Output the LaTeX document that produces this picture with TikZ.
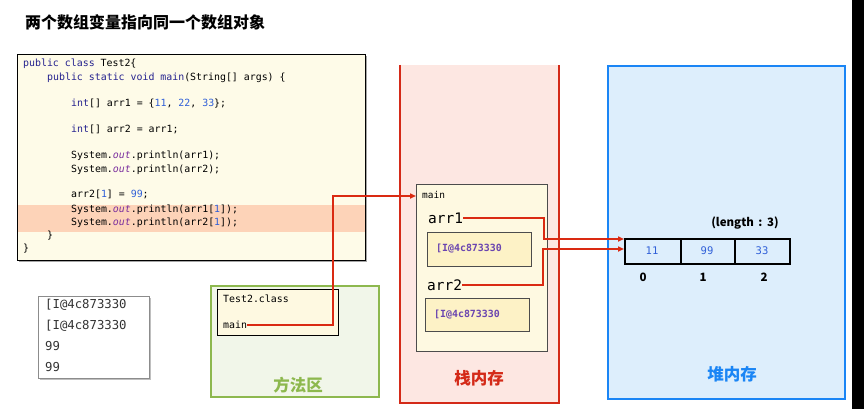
\documentclass[tikz,border=0pt]{standalone}
\usepackage{fontspec}
\usetikzlibrary{arrows.meta,calc}
\newfontfamily\cjk{Noto Sans CJK SC}
\setmonofont{DejaVu Sans Mono}
\definecolor{codebg}{HTML}{FEFBE8}
\definecolor{hilite}{HTML}{FDD3B8}
\definecolor{kwblue}{HTML}{26238F}
\definecolor{numblue}{HTML}{2F5FD8}
\definecolor{outpurple}{HTML}{7A2E9E}
\definecolor{stackfill}{HTML}{FDE7E2}
\definecolor{stackred}{HTML}{D42A18}
\definecolor{arrowred}{HTML}{DA2A12}
\definecolor{heapfill}{HTML}{DDEEFC}
\definecolor{heapblue}{HTML}{1A85F5}
\definecolor{methfill}{HTML}{F1F6E9}
\definecolor{methgreen}{HTML}{8DB84E}
\definecolor{frameyel}{HTML}{FEF9E1}
\definecolor{refyel}{HTML}{FDF2C6}
\definecolor{refpurple}{HTML}{6A45B0}
\definecolor{outgray}{HTML}{333333}
\newcommand{\kw}[1]{\textcolor{kwblue}{#1}}
\newcommand{\nm}[1]{\textcolor{numblue}{#1}}
\newcommand{\ov}{\textcolor{outpurple}{\textit{out}}}
\begin{document}
\begin{tikzpicture}[x=1pt,y=-1pt,
  box/.style={draw, anchor=north west, inner sep=0pt},
  codeline/.style={anchor=west, inner sep=0pt, font=\ttfamily\fontsize{9.9}{10}\selectfont, text height=7.5pt, text depth=2.5pt},
  plain/.style={anchor=west, inner sep=0pt},
  redline/.style={draw=arrowred, line width=2pt},
  redarrow/.style={redline, -{Triangle[length=6pt,width=5pt]}},
  area/.style={font=\cjk\bfseries\fontsize{16.5}{17}\selectfont, inner sep=0pt},
  cell/.style={box, draw=black, line width=1.6pt, minimum height=25pt},
  cellval/.style={inner sep=0pt, font=\ttfamily\fontsize{10.5}{11}\selectfont, text=numblue},
  idx/.style={inner sep=0pt, font=\cjk\bfseries\fontsize{11.5}{12}\selectfont}
]
\useasboundingbox (0,0) rectangle (864,409);
\fill[white] (0,0) rectangle (864,409);
\fill[black] (852,0) rectangle (864,409);

% title
\node[plain, font=\cjk\bfseries\fontsize{16}{17}\selectfont] (title) at (25,22) {两个数组变量指向同一个数组对象};

% code box
\fill[black!35] (19,56) rectangle (367,262);
\node[box, fill=codebg, draw=black, line width=0.9pt, minimum width=348pt, minimum height=206pt] (code) at (17,54) {};
\fill[hilite] (17.5,205) rectangle (364.5,232);
\node[codeline] (c1) at (23,64) {\kw{public class} Test2\{};
\node[codeline] (c2) at (47,78) {\kw{public static void main}(String[] args) \{};
\node[codeline] (c3) at (71,104) {\kw{int}[] arr1 = \{\nm{11}, \nm{22}, \nm{33}\};};
\node[codeline] (c4) at (71,130) {\kw{int}[] arr2 = arr1;};
\node[codeline] (c5) at (71,156) {System.\ov.println(arr1);};
\node[codeline] (c6) at (71,169.5) {System.\ov.println(arr2);};
\node[codeline] (c7) at (71,195) {arr2[\nm{1}] = \nm{99};};
\node[codeline] (c8) at (71,210) {System.\ov.println(arr1[\nm{1}]);};
\node[codeline] (c9) at (71,223) {System.\ov.println(arr2[\nm{1}]);};
\node[codeline] (c10) at (47,236) {\}};
\node[codeline] (c11) at (23,249) {\}};

% output box
\fill[black!25] (39.5,297.5) rectangle (150.5,379.5);
\node[box, fill=white, draw=black!45, line width=0.7pt, minimum width=111pt, minimum height=82pt] (outbox) at (38,296) {};
\node[plain, font=\ttfamily\fontsize{12.3}{13}\selectfont, text=outgray] (o1) at (45,305) {[I@4c873330};
\node[plain, font=\ttfamily\fontsize{12.3}{13}\selectfont, text=outgray] (o2) at (45,325.5) {[I@4c873330};
\node[plain, font=\ttfamily\fontsize{12.3}{13}\selectfont, text=outgray] (o3) at (45,346.5) {99};
\node[plain, font=\ttfamily\fontsize{12.3}{13}\selectfont, text=outgray] (o4) at (45,367) {99};

% method area
\node[box, fill=methfill, draw=methgreen, line width=2.2pt, minimum width=168pt, minimum height=111pt] (meth) at (210,285) {};
\node[box, fill=frameyel, draw=black, line width=0.9pt, minimum width=121pt, minimum height=46pt] (cls) at (217,289) {};
\node[plain, font=\ttfamily\fontsize{9.9}{10}\selectfont] (clsname) at (223,299) {Test2.class};
\node[plain, font=\ttfamily\fontsize{9.9}{10}\selectfont] (clsmain) at (223,325) {main};
\node[area, text=methgreen] (methlabel) at (298,385) {方法区};

% stack
\fill[stackfill] (399,65) rectangle (560,403);
\draw[stackred, line width=2.4pt] (400,65) -- (400,403) -- (559,403) -- (559,65);
\node[area, text=stackred] (stacklabel) at (479,378) {栈内存};
\node[box, fill=frameyel, draw=black!70, line width=0.8pt, minimum width=131pt, minimum height=167pt] (frame) at (416,184) {};
\node[plain, font=\ttfamily\fontsize{9.5}{10}\selectfont] (fmain) at (422,195) {main};
\node[plain, font=\ttfamily\fontsize{14.5}{15}\selectfont] (arr1) at (428,218) {arr1};
\node[box, fill=refyel, draw=black!70, line width=0.8pt, minimum width=104pt, minimum height=34pt] (ref1) at (427,232) {};
\node[plain, font=\ttfamily\bfseries\fontsize{9.9}{10}\selectfont, text=refpurple] (ref1t) at (436,248.5) {[I@4c873330};
\node[plain, font=\ttfamily\fontsize{14.5}{15}\selectfont] (arr2) at (427,285) {arr2};
\node[box, fill=refyel, draw=black!70, line width=0.8pt, minimum width=104pt, minimum height=33pt] (ref2) at (425,298) {};
\node[plain, font=\ttfamily\bfseries\fontsize{9.9}{10}\selectfont, text=refpurple] (ref2t) at (434,315) {[I@4c873330};

% heap
\node[box, fill=heapfill, draw=heapblue, line width=2.4pt, minimum width=237pt, minimum height=333pt] (heap) at (607,65) {};
\node[area, text=heapblue] (heaplabel) at (732,374) {堆内存};
\node[idx] (len) at (745,223) {(length\,\ :\ \,3)};
\node[cell, minimum width=56pt] (cell0) at (624,238) {};
\node[cell, minimum width=54pt] (cell1) at (680,238) {};
\node[cell, minimum width=55pt] (cell2) at (734,238) {};
\node[cellval] (v0) at (652,251) {11};
\node[cellval] (v1) at (707,251) {99};
\node[cellval] (v2) at (762,251) {33};
\node[idx] (i0) at (643,277) {0};
\node[idx] (i1) at (703,277) {1};
\node[idx] (i2) at (764,277) {2};

% connectors
\coordinate (b0) at (333,196);
\coordinate (b1) at (544,239);
\coordinate (b2) at (543,249);
\draw[redarrow] (clsmain.east) -| (b0) -- (frame.west |- b0);
\draw[redarrow] (arr1.east) -| (b1) -- (cell0.west |- b1);
\draw[redarrow] (arr2.east) -| (b2) -- (cell0.west |- b2);
\end{tikzpicture}
\end{document}
